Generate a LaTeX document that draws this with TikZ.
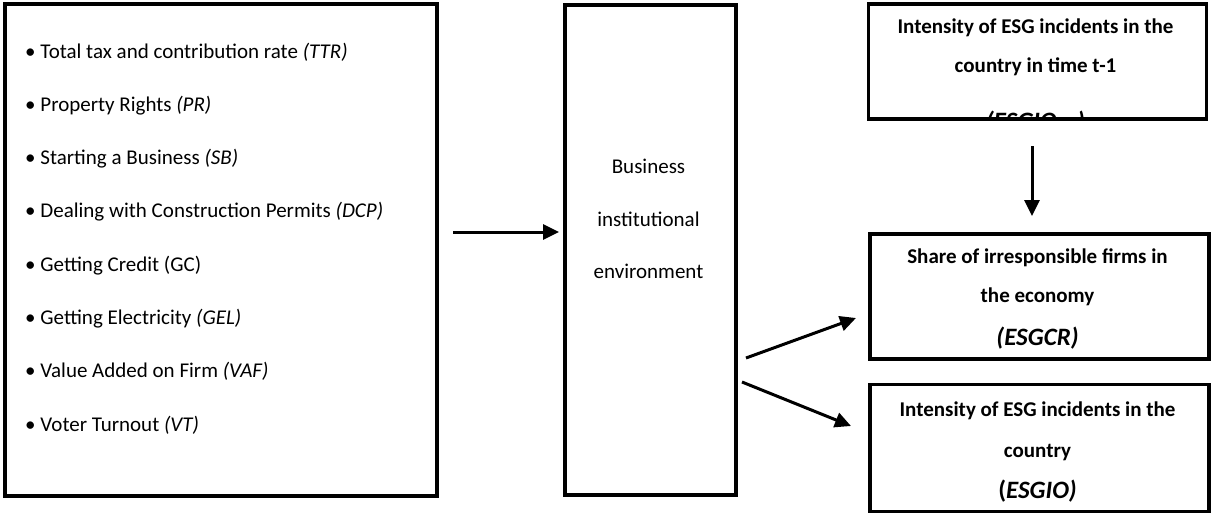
\documentclass[tikz,border=0pt]{standalone}
\usepackage{fontspec}
\setmainfont{Carlito}
\usetikzlibrary{arrows.meta}
\tikzset{
  % black frame of a block
  boxframe/.style={draw=black,line width=3.5pt,inner sep=0pt},
  % one line of text
  txt/.style={inner sep=0pt,font=\fontsize{21}{25}\selectfont},
  boldtxt/.style={inner sep=0pt,font=\fontsize{21}{25}\selectfont\bfseries},
  bigtxt/.style={inner sep=0pt,font=\fontsize{25}{30}\selectfont\bfseries},
  % thick arrow between blocks
  flow/.style={draw=black,line width=3pt,-{Triangle[length=16pt,width=15pt]}},
}

\begin{document}
\begin{tikzpicture}[x=1pt,y=-1pt]
\useasboundingbox (0,0) rectangle (1212,512);
\node[boxframe,anchor=north west,minimum width=432pt,minimum height=492pt] (drivers) at (3,2) {};
\node[boxframe,anchor=north west,minimum width=171pt,minimum height=490pt] (env) at (563,3) {};
\node[boxframe,anchor=north west,minimum width=338pt,minimum height=115pt] (lag) at (866.5,2) {};
\node[boxframe,anchor=north west,minimum width=339pt,minimum height=125pt] (share) at (868,232) {};
\node[boxframe,anchor=north west,minimum width=339pt,minimum height=127pt] (incid) at (868,382.5) {};
\node[txt,anchor=base west] (ttr) at (25,58) {\textbullet\ Total tax and contribution rate \textit{(TTR)}};
\node[txt,anchor=base west] (pr) at (25,111.3) {\textbullet\ Property Rights \textit{(PR)}};
\node[txt,anchor=base west] (sb) at (25,164.6) {\textbullet\ Starting a Business \textit{(SB)}};
\node[txt,anchor=base west] (dcp) at (25,217.9) {\textbullet\ Dealing with Construction Permits \textit{(DCP)}};
\node[txt,anchor=base west] (gc) at (25,271.2) {\textbullet\ Getting Credit (GC)};
\node[txt,anchor=base west] (gel) at (25,324.5) {\textbullet\ Getting Electricity \textit{(GEL)}};
\node[txt,anchor=base west] (vaf) at (25,377.8) {\textbullet\ Value Added on Firm \textit{(VAF)}};
\node[txt,anchor=base west] (vt) at (25,431.1) {\textbullet\ Voter Turnout \textit{(VT)}};
\node[txt,anchor=base] (env1) at (648.5,173) {Business};
\node[txt,anchor=base] (env2) at (648.5,226) {institutional};
\node[txt,anchor=base] (env3) at (648.5,278) {environment};
\node[boldtxt,anchor=base] (lag1) at (1035.5,33) {Intensity of ESG incidents in the};
\node[boldtxt,anchor=base] (lag2) at (1035.5,72) {country in time t-1};
\begin{scope}
  \clip (lag.north west) rectangle ([yshift=1.75pt]lag.south east);
  \node[bigtxt,anchor=base] (lag3) at (1035.5,129) {\textit{(ESGIO\textsubscript{t-1})}};
\end{scope}
\node[boldtxt,anchor=base] (share1) at (1037.5,263) {Share of irresponsible firms in};
\node[boldtxt,anchor=base] (share2) at (1037.5,302) {the economy};
\node[bigtxt,anchor=base] (share3) at (1037.5,345) {\textit{(ESGCR)}};
\node[boldtxt,anchor=base] (incid1) at (1037.5,416) {Intensity of ESG incidents in the};
\node[boldtxt,anchor=base] (incid2) at (1037.5,457) {country};
\node[bigtxt,anchor=base] (incid3) at (1037.5,498) {(\textit{ESGIO)}};
\coordinate (inA) at (453,232);
\coordinate (inB) at (559,232);
\coordinate (lagA) at (1032,146);
\coordinate (lagB) at (1032,216);
\coordinate (upA) at (746,358);
\coordinate (upB) at (856,318);
\coordinate (downA) at (742,382);
\coordinate (downB) at (851,426);
\draw[flow] (inA)--(inB);
\draw[flow] (lagA)--(lagB);
\draw[flow] (upA)--(upB);
\draw[flow] (downA)--(downB);
\end{tikzpicture}
\end{document}
